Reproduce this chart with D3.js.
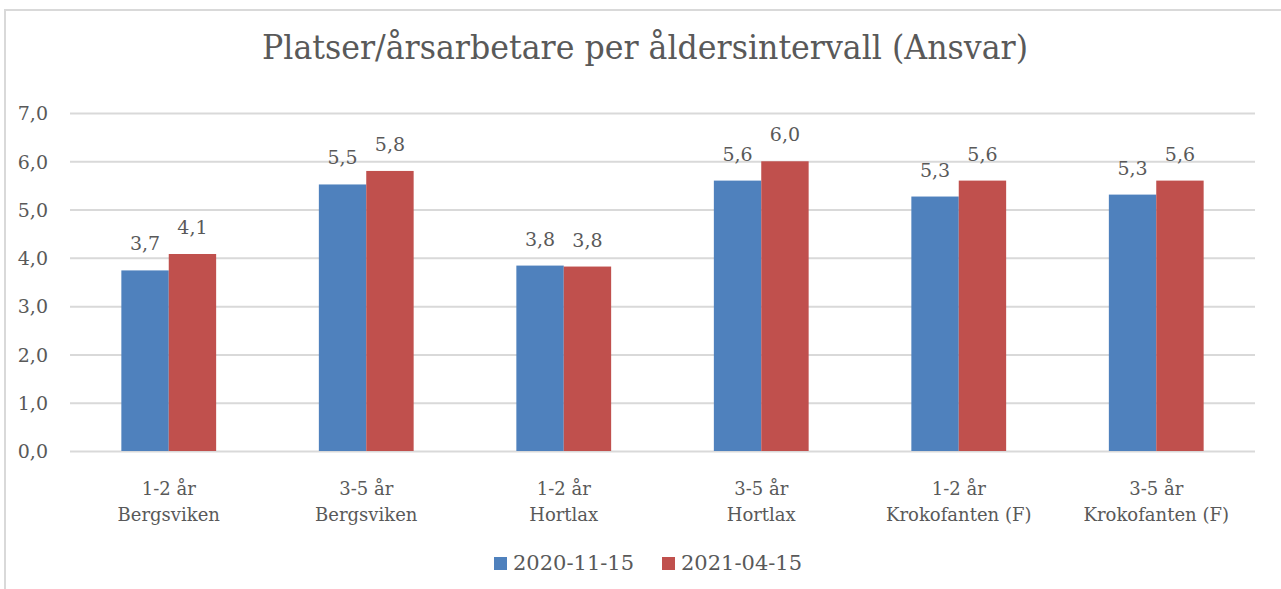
<!DOCTYPE html>
<html>
<head>
<meta charset="utf-8">
<script src="https://cdn.jsdelivr.net/npm/d3@7"></script>
<style>
  html, body { margin: 0; padding: 0; background: #ffffff; }
  svg { display: block; }
  text { font-family: "DejaVu Serif", "Liberation Serif", serif; fill: #595959; }
</style>
</head>
<body>
<svg id="chart" width="1281" height="589"></svg>
<script>
// Chart data
const title = "Platser/årsarbetare per åldersintervall (Ansvar)";
const ageGroups = ["1-2 år", "3-5 år", "1-2 år", "3-5 år", "1-2 år", "3-5 år"];
const units = ["Bergsviken", "Bergsviken", "Hortlax", "Hortlax", "Krokofanten (F)", "Krokofanten (F)"];
const seriesNames = ["2020-11-15", "2021-04-15"];
const values2020 = [3.74, 5.52, 3.84, 5.60, 5.27, 5.31];
const values2021 = [4.08, 5.80, 3.82, 6.00, 5.60, 5.60];
const yTicks = [0, 1, 2, 3, 4, 5, 6, 7];
const colors = ["#4F81BD", "#C0504D"];

const svg = d3.select("#chart");
const fmt = v => d3.format(".1f")(v).replace(".", ",");

// Outer chart border (runs off the right and bottom edges)
svg.append("rect")
  .attr("x", 5).attr("y", 10)
  .attr("width", 1400).attr("height", 700)
  .attr("fill", "none")
  .attr("stroke", "#d9d9d9")
  .attr("stroke-width", 2);

// Title, fitted to its box width
svg.append("text")
  .attr("x", 645).attr("y", 59)
  .attr("text-anchor", "middle")
  .attr("font-size", 34)
  .attr("textLength", 766)
  .attr("lengthAdjust", "spacingAndGlyphs")
  .text(title);

// Scales
const categories = d3.range(ageGroups.length);
const x0 = d3.scaleBand().domain(categories).range([70, 1255])
  .paddingInner(0.52).paddingOuter(0.26);
const x1 = d3.scaleBand().domain([0, 1]).range([0, x0.bandwidth()]);
const y = d3.scaleLinear().domain([0, 7]).range([451, 113]);

// Gridlines and tick labels
const yAxis = d3.axisLeft(y).tickValues(yTicks)
  .tickSize(-(1255 - 70)).tickPadding(22).tickFormat(fmt);
const gy = svg.append("g").attr("transform", "translate(70,0)").call(yAxis);
gy.select(".domain").remove();
gy.selectAll(".tick line").attr("stroke", "#d9d9d9").attr("stroke-width", 2);
gy.selectAll(".tick text")
  .attr("font-size", 19)
  .attr("fill", "#595959")
  .attr("font-family", "DejaVu Serif, serif")
  .attr("dy", "0.36em");

// Bars
const series = [values2020, values2021];
const groups = svg.append("g").selectAll("g")
  .data(categories).join("g")
  .attr("transform", d => `translate(${x0(d)},0)`);

groups.selectAll("rect")
  .data(d => series.map((s, i) => ({ i, v: s[d] })))
  .join("rect")
  .attr("x", d => x1(d.i))
  .attr("y", d => y(d.v))
  .attr("width", x1.bandwidth())
  .attr("height", d => y(0) - y(d.v))
  .attr("fill", d => colors[d.i]);

// Value labels
groups.selectAll("text.val")
  .data(d => series.map((s, i) => ({ i, v: s[d] })))
  .join("text")
  .attr("class", "val")
  .attr("x", d => x1(d.i) + x1.bandwidth() / 2)
  .attr("y", d => y(d.v) - 20)
  .attr("text-anchor", "middle")
  .attr("font-size", 19)
  .attr("fill", "#404040")
  .text(d => fmt(d.v));

// Category labels (two lines)
const cat = svg.append("g").selectAll("text")
  .data(categories).join("text")
  .attr("text-anchor", "middle")
  .attr("font-size", 18)
  .attr("x", d => x0(d) + x0.bandwidth() / 2);
cat.append("tspan")
  .attr("x", d => x0(d) + x0.bandwidth() / 2)
  .attr("y", 495)
  .text(d => ageGroups[d]);
cat.append("tspan")
  .attr("x", d => x0(d) + x0.bandwidth() / 2)
  .attr("y", 521)
  .text(d => units[d]);

// Legend
const legendX = [494, 662];
const legend = svg.append("g").selectAll("g")
  .data(seriesNames).join("g")
  .attr("transform", (d, i) => `translate(${legendX[i]},0)`);
legend.append("rect")
  .attr("x", 0).attr("y", 557)
  .attr("width", 13).attr("height", 13)
  .attr("fill", (d, i) => colors[i]);
legend.append("text")
  .attr("x", 19).attr("y", 570)
  .attr("font-size", 21)
  .text(d => d);
</script>
</body>
</html>
